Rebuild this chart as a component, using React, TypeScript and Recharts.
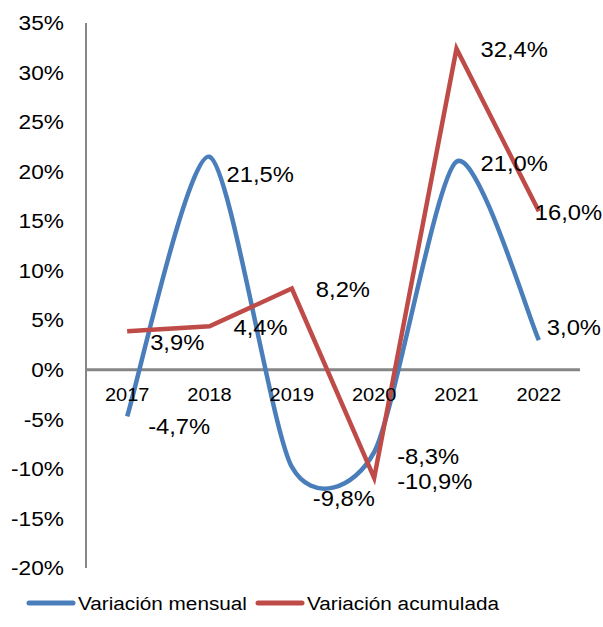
import { LineChart, Line, XAxis, YAxis, ReferenceLine, ReferenceDot, LabelList } from "recharts";

const YEARS = ["2017", "2018", "2019", "2020", "2021", "2022"];
const MENSUAL = [-4.7, 21.5, -9.8, -8.3, 21.0, 3.0];
const ACUMULADA = [3.9, 4.4, 8.2, -10.9, 32.4, 16.0];
const Y_TICKS = [-20, -15, -10, -5, 0, 5, 10, 15, 20, 25, 30, 35];
const SERIES_NAMES = ["Variación mensual", "Variación acumulada"];

const BLUE = "#4a7ebb";
const RED = "#be4b48";
const AXIS = "#868686";
const FONT = "Arial, 'Liberation Sans', sans-serif";
const SX = 1.08; // the source text is slightly stretched horizontally
const SMOOTH = 0.75 / 6; // tangent scale for the smoothed line

// label nudges (px) relative to each point, like the hand-placed Excel labels
const MENSUAL_LABEL_DX = [21, 17, 21, 23, 24, 8];
const MENSUAL_LABEL_DY = [10, 18, 31, 4, 2, -13];
const ACUM_LABEL_DX = [23, 24, 24, 23, 24, -4];
const ACUM_LABEL_DY = [11, 1, 1, 3, 1, 1];

const data = YEARS.map((year, i) => ({ year, mensual: MENSUAL[i], acumulada: ACUMULADA[i] }));

const pct = (v: number) => `${v.toFixed(1).replace(".", ",")}%`;

function SText({ x, y, anchor = "middle", size, children }: { x: number; y: number; anchor?: string; size: number; children: React.ReactNode }) {
  return (
    <text
      transform={`translate(${x},${y}) scale(${SX},1)`}
      textAnchor={anchor as any}
      dominantBaseline="central"
      fontSize={size}
      fontFamily={FONT}
      fill="#000"
    >
      {children}
    </text>
  );
}

// Catmull-Rom style smoothing, close to Excel's "smoothed line"
function smoothCurve(context: any) {
  let pts: [number, number][] = [];
  return {
    areaStart() {},
    areaEnd() {},
    lineStart() {
      pts = [];
    },
    point(x: number, y: number) {
      pts.push([+x, +y]);
    },
    lineEnd() {
      if (!pts.length) return;
      context.moveTo(pts[0][0], pts[0][1]);
      for (let i = 0; i < pts.length - 1; i++) {
        const p0 = pts[Math.max(i - 1, 0)];
        const p1 = pts[i];
        const p2 = pts[i + 1];
        const p3 = pts[Math.min(i + 2, pts.length - 1)];
        context.bezierCurveTo(
          p1[0] + (p2[0] - p0[0]) * SMOOTH,
          p1[1] + (p2[1] - p0[1]) * SMOOTH,
          p2[0] - (p3[0] - p1[0]) * SMOOTH,
          p2[1] - (p3[1] - p1[1]) * SMOOTH,
          p2[0],
          p2[1]
        );
      }
    },
  };
}

function makeLabel(dxs: number[], dys: number[]) {
  return (props: any) => {
    const { x, y, value, index } = props;
    return (
      <SText x={x + dxs[index]} y={y + dys[index]} anchor="start" size={22}>
        {pct(value)}
      </SText>
    );
  };
}

function YTick(props: any) {
  const { x, y, payload } = props;
  return (
    <SText x={x} y={y} anchor="end" size={21}>
      {payload.value}%
    </SText>
  );
}

function Legend2() {
  const items = [
    { name: SERIES_NAMES[0], color: BLUE, x: 27 },
    { name: SERIES_NAMES[1], color: RED, x: 256 },
  ];
  return (
    <svg width={603} height={40} style={{ position: "absolute", left: 0, top: 584 }}>
      {items.map((it) => (
        <g key={it.name}>
          <line x1={it.x + 2} y1={19} x2={it.x + 46} y2={19} stroke={it.color} strokeWidth={5} strokeLinecap="round" />
          <SText x={it.x + 51} y={19} anchor="start" size={19.2}>
            {it.name}
          </SText>
        </g>
      ))}
    </svg>
  );
}

export default function App() {
  return (
    <div style={{ position: "absolute", left: 0, top: 0, width: 603, height: 627, background: "#fff" }}>
      <LineChart width={603} height={627} data={data} margin={{ top: 23, right: 23, bottom: 59, left: 0 }}>
        <XAxis dataKey="year" scale="band" hide />
        <YAxis
          type="number"
          domain={[-20, 35]}
          ticks={Y_TICKS}
          width={86}
          interval={0}
          axisLine={{ stroke: AXIS, strokeWidth: 2 }}
          tickLine={false}
          tickMargin={16}
          tick={<YTick />}
        />
        <ReferenceLine y={0} stroke={AXIS} strokeWidth={3} />
        {YEARS.map((yr) => (
          <ReferenceDot
            key={yr}
            x={yr}
            y={0}
            r={0}
            fill="none"
            stroke="none"
            label={(p: any) => (
              <SText x={p.viewBox.x} y={p.viewBox.y + 25} size={18.5}>
                {yr}
              </SText>
            )}
          />
        ))}
        <Line
          dataKey="mensual"
          name={SERIES_NAMES[0]}
          type={smoothCurve as any}
          stroke={BLUE}
          strokeWidth={4.5}
          dot={false}
          activeDot={false}
          isAnimationActive={false}
        >
          <LabelList dataKey="mensual" content={makeLabel(MENSUAL_LABEL_DX, MENSUAL_LABEL_DY)} />
        </Line>
        <Line
          dataKey="acumulada"
          name={SERIES_NAMES[1]}
          type="linear"
          stroke={RED}
          strokeWidth={4.5}
          dot={false}
          activeDot={false}
          isAnimationActive={false}
        >
          <LabelList dataKey="acumulada" content={makeLabel(ACUM_LABEL_DX, ACUM_LABEL_DY)} />
        </Line>
      </LineChart>
      <Legend2 />
    </div>
  );
}
